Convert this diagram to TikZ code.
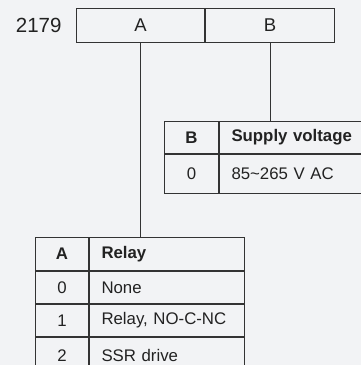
\documentclass[tikz,border=0pt]{standalone}
\usepackage{fontspec}
\setmainfont{Liberation Sans}
\usetikzlibrary{positioning}
\definecolor{bggray}{HTML}{F2F3F5}
\definecolor{linegray}{HTML}{333333}
\definecolor{txtgray}{HTML}{222222}
\newcommand{\tabfont}{\fontsize{16.8}{19}\selectfont}

\begin{document}
\begin{tikzpicture}[x=1pt, y=-1pt, line width=1pt,
  codebox/.style={draw=linegray, minimum width=128pt, minimum height=34pt, inner sep=0pt,
    anchor=north west, text=txtgray, font=\fontsize{18.5}{21}\selectfont},
  keycell/.style={draw=linegray, anchor=north west, minimum width=#1, minimum height=32pt,
    inner sep=0pt, text=txtgray, font=\tabfont},
  keycell/.default=53pt,
  textcell/.style={draw=linegray, anchor=north west, text width=#1, align=left,
    minimum height=32pt, inner xsep=12pt, inner ysep=0pt, text=txtgray, font=\tabfont},
  textcell/.default=131pt,
  conn/.style={draw=linegray}]
  \useasboundingbox (0,0) rectangle (361,365);
  \fill[bggray] (0,0) rectangle (361,365);
  \clip (0,0) rectangle (361,365);

  % order code
  \node[codebox] (boxA) at (76,8) {A};
  \node[codebox, minimum width=129pt] (boxB) at (boxA.north east) {B};
  \node[left=14pt of boxA, inner sep=0pt, text=txtgray, font=\fontsize{20.5}{23}\selectfont] (code) {2179};

  % table B
  \node[keycell=54pt, font=\tabfont\bfseries] (tB-h1) at (164,121) {B};
  \node[textcell=136pt, font=\tabfont\bfseries] (tB-h2) at (tB-h1.north east) {Supply voltage};
  \node[keycell=54pt, minimum height=39pt] (tB-r1) at (tB-h1.south west) {0};
  \node[textcell=136pt, minimum height=39pt] (tB-t1) at (tB-r1.north east) {85\textasciitilde 265 V AC};

  % table A
  \node[keycell, minimum height=33pt, font=\tabfont\bfseries] (tA-h1) at (35,237) {A};
  \node[textcell, minimum height=33pt, font=\tabfont\bfseries] (tA-h2) at (tA-h1.north east) {Relay};
  \node[keycell] (tA-r1) at (tA-h1.south west) {0};
  \node[textcell] (tA-t1) at (tA-r1.north east) {None};
  \node[keycell] (tA-r2) at (tA-r1.south west) {1};
  \node[textcell] (tA-t2) at (tA-r2.north east) {Relay, NO-C-NC};
  \node[keycell, minimum height=40pt] (tA-r3) at (tA-r2.south west) {\raisebox{4pt}{2}};
  \node[textcell, minimum height=40pt] (tA-t3) at (tA-r3.north east) {\raisebox{4pt}{SSR drive}};

  % connectors
  \draw[conn] (boxA.south) -- (boxA.south |- tA-h2.north);
  \draw[conn] (boxB.south) -- (boxB.south |- tB-h2.north);
\end{tikzpicture}
\end{document}
